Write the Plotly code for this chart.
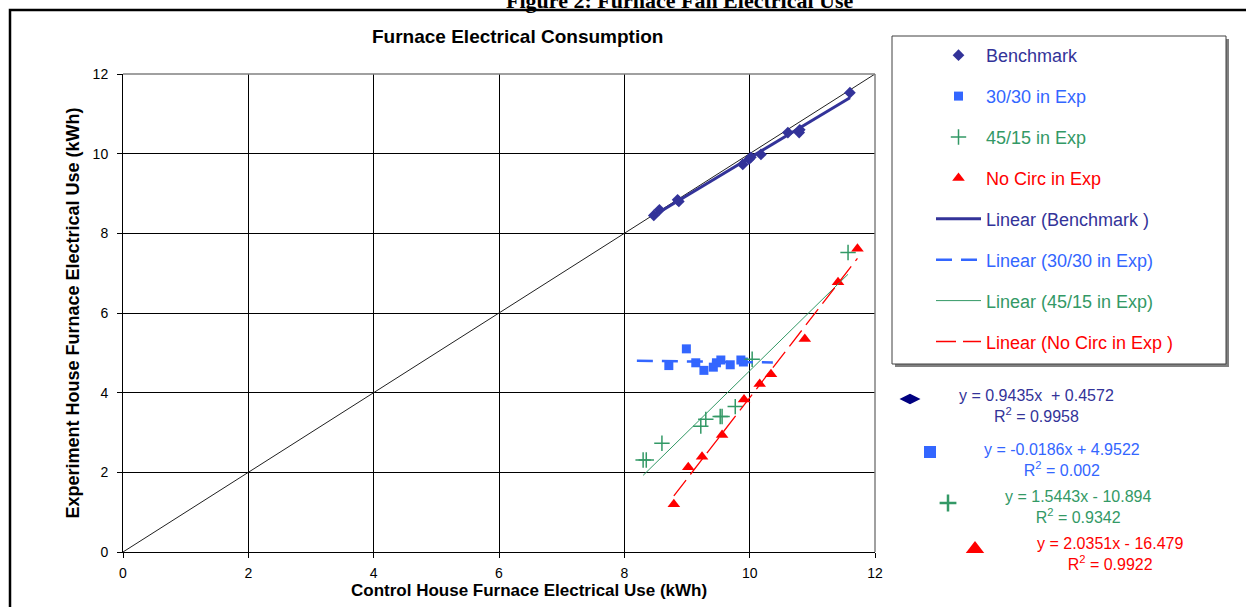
import plotly.graph_objects as go

W, H = 1246, 607

# ---------------- data (kWh) ----------------
bench_x = [8.47, 8.56, 8.85, 8.87, 9.89, 9.99, 10.02, 10.18, 10.61, 10.79, 10.80, 11.60]
bench_y = [8.45, 8.59, 8.84, 8.80, 9.73, 9.86, 9.91, 9.98, 10.53, 10.53, 10.60, 11.53]

s3030_x = [8.71, 8.99, 9.14, 9.27, 9.42, 9.47, 9.54, 9.69, 9.86, 9.90]
s3030_y = [4.68, 5.10, 4.75, 4.56, 4.64, 4.75, 4.82, 4.70, 4.82, 4.77]

s4515_x = [8.30, 8.35, 8.60, 9.22, 9.30, 9.53, 9.56, 9.77, 10.04, 11.57]
s4515_y = [2.31, 2.31, 2.73, 3.16, 3.33, 3.40, 3.40, 3.65, 4.84, 7.52]

nocirc_x = [8.79, 9.02, 9.24, 9.56, 9.91, 10.16, 10.34, 10.88, 11.41, 11.72]
nocirc_y = [1.20, 2.13, 2.39, 2.94, 3.83, 4.22, 4.46, 5.35, 6.77, 7.61]

# 1:1 reference line
ref_x = [0, 12]
ref_y = [0, 12]

# linear trendlines (coefficients as printed on the chart)
series_names = ["Benchmark", "30/30 in Exp", "45/15 in Exp", "No Circ in Exp"]
trend_names = ["Linear (Benchmark )", "Linear (30/30 in Exp)",
               "Linear (45/15 in Exp)", "Linear (No Circ in Exp )"]
slopes = [0.9435, -0.0186, 1.5443, 2.0351]
intercepts = [0.4572, 4.9522, -10.894, -16.479]
trend_x_start = [8.47, 8.20, 8.30, 8.79]
trend_x_end = [11.60, 10.37, 11.57, 11.72]
eq_labels = ["y = 0.9435x  + 0.4572", "y = -0.0186x + 4.9522",
             "y = 1.5443x - 10.894", "y = 2.0351x - 16.479"]
r2_labels = ["0.9958", "0.002", "0.9342", "0.9922"]

x_ticks = [0, 2, 4, 6, 8, 10, 12]
y_ticks = [0, 2, 4, 6, 8, 10, 12]

# ---------------- styles ----------------
FONT = "Liberation Sans, Arial, sans-serif"
colors = ["#333399", "#3366FF", "#339966", "#FF0000"]
symbols = ["diamond", "square", "cross-thin", "triangle-up"]
msizes = [9, 9, 11, 11]
line_styles = [dict(width=3, dash="solid"), dict(width=2.5, dash="16px,9px"),
               dict(width=1, dash="solid"), dict(width=1.3, dash="20px,7px")]
key_colors = ["#000080", "#3366FF", "#339966", "#FF0000"]
key_symbols = ["diamond-wide", "square", "cross-thin", "triangle-up"]
key_sizes = [15, 12, 12, 16]

def px(x):
    return x / W

def py(y):
    return 1 - y / H

fig = go.Figure()

fig.add_trace(go.Scatter(x=ref_x, y=ref_y, mode="lines",
                         line=dict(color="#202020", width=1), showlegend=False,
                         hoverinfo="skip"))

xs = [bench_x, s3030_x, s4515_x, nocirc_x]
ys = [bench_y, s3030_y, s4515_y, nocirc_y]

for i in range(4):
    mk = dict(symbol=symbols[i], size=msizes[i], color=colors[i])
    if symbols[i] == "cross-thin":
        mk["line"] = dict(color=colors[i], width=1.5)
    fig.add_trace(go.Scatter(x=xs[i], y=ys[i], mode="markers",
                             name=f"<span style='color:{colors[i]}'>{series_names[i]}</span>",
                             marker=mk, legendgroup=f"g{i}"))

for i in range(4):
    tx = [trend_x_start[i], trend_x_end[i]]
    ty = [slopes[i] * v + intercepts[i] for v in tx]
    fig.add_trace(go.Scatter(x=tx, y=ty, mode="lines",
                             name=f"<span style='color:{colors[i]}'>{trend_names[i]}</span>",
                             line=dict(color=colors[i], **line_styles[i]),
                             legendgroup=f"t{i}"))

# keys next to trendline equations (pixel overlay axes)
key_px_x = [910, 930, 948, 975]
key_px_y = [399, 452, 503, 549]
for i in range(4):
    mk = dict(symbol=key_symbols[i], size=key_sizes[i], color=key_colors[i])
    if key_symbols[i] == "cross-thin":
        mk["line"] = dict(color=key_colors[i], width=2.5)
    fig.add_trace(go.Scatter(x=[key_px_x[i]], y=[key_px_y[i]], mode="markers",
                             marker=mk, xaxis="x2", yaxis="y2", showlegend=False,
                             hoverinfo="skip"))

eq_cx = [1036, 1062, 1078, 1110]
eq_cy = [406, 460, 507, 554]
annotations = []
for i in range(4):
    annotations.append(dict(
        x=px(eq_cx[i]), y=py(eq_cy[i]), xref="paper", yref="paper",
        text=f"{eq_labels[i]}<br>R<sup>2</sup> = {r2_labels[i]}",
        showarrow=False, align="center", xanchor="center", yanchor="middle",
        font=dict(family=FONT, size=16, color=colors[i])))

annotations.append(dict(x=px(517), y=py(37), xref="paper", yref="paper",
                        text="<b>Furnace Electrical Consumption</b>", showarrow=False,
                        xanchor="center", yanchor="middle",
                        font=dict(family=FONT, size=19, color="black")))
annotations.append(dict(x=px(529), y=py(590), xref="paper", yref="paper",
                        text="<b>Control House Furnace Electrical Use (kWh)</b>", showarrow=False,
                        xanchor="center", yanchor="middle",
                        font=dict(family=FONT, size=17, color="black")))
annotations.append(dict(x=px(679), y=py(0), xref="paper", yref="paper",
                        text="<b>Figure 2: Furnace Fan Electrical Use</b>", showarrow=False,
                        xanchor="center", yanchor="middle",
                        font=dict(family="Liberation Serif, Times New Roman, serif",
                                  size=22, color="black")))

shapes = [
    # outer frame
    dict(type="rect", xref="paper", yref="paper", x0=px(10), y0=py(10), x1=1.05, y1=-0.05,
         line=dict(color="black", width=2.5), layer="below"),
    # legend shadow + box
    dict(type="rect", xref="paper", yref="paper", x0=px(895), y0=py(39), x1=px(1229), y1=py(367),
         line=dict(width=0), fillcolor="#808080", layer="below"),
    dict(type="rect", xref="paper", yref="paper", x0=px(892), y0=py(36), x1=px(1226), y1=py(364),
         line=dict(color="#404040", width=1), fillcolor="white", layer="below"),
    # plot area top / right border
    dict(type="line", xref="x domain", yref="y domain", x0=0, y0=1, x1=1, y1=1,
         line=dict(color="#808080", width=1.5)),
    dict(type="line", xref="x domain", yref="y domain", x0=1, y0=0, x1=1, y1=1,
         line=dict(color="#808080", width=1.5)),
]

axis_common = dict(showgrid=True, gridcolor="black", gridwidth=1, zeroline=False,
                   showline=True, linecolor="black", linewidth=1, ticks="outside",
                   ticklen=5, tickcolor="black", tickfont=dict(family=FONT, size=14, color="black"),
                   range=[0, 12])

fig.update_layout(
    width=W, height=H,
    margin=dict(l=0, r=0, t=0, b=0, autoexpand=False),
    paper_bgcolor="white", plot_bgcolor="rgba(0,0,0,0)",
    font=dict(family=FONT),
    xaxis=dict(domain=[px(123), px(875)], tickvals=x_ticks, ticklabelstandoff=3,
               automargin=False, **axis_common),
    yaxis=dict(domain=[py(552), py(74)], tickvals=y_ticks, ticklabelstandoff=6,
               title=dict(text="<b>Experiment House Furnace Electrical Use (kWh)</b>",
                          font=dict(family=FONT, size=18, color="black"), standoff=8),
               automargin=False, **axis_common),
    xaxis2=dict(domain=[0, 1], range=[0, W], visible=False, anchor="y2", fixedrange=True),
    yaxis2=dict(domain=[0, 1], range=[H, 0], visible=False, anchor="x2", fixedrange=True),
    showlegend=True,
    legend=dict(x=px(931), y=py(37), xanchor="left", yanchor="top",
                bgcolor="rgba(0,0,0,0)", borderwidth=0, itemwidth=45,
                tracegroupgap=14.5, font=dict(family=FONT, size=18, color="black")),
    annotations=annotations,
    shapes=shapes,
)

fig.write_html("out.html", config={"displayModeBar": False},
               post_script="document.body.style.margin='0';document.body.style.overflow='hidden';")
